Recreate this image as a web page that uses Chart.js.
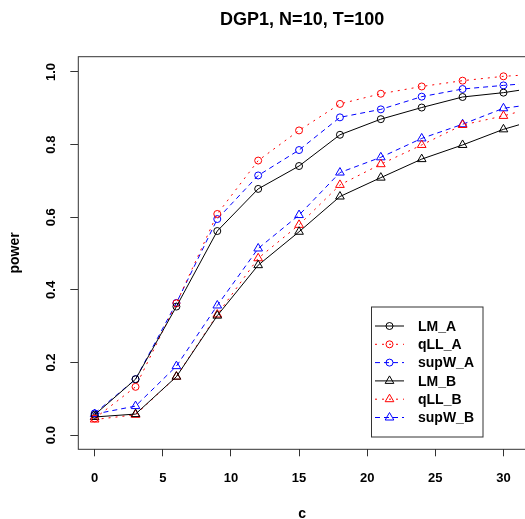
<!DOCTYPE html>
<html>
<head>
<title>DGP1, N=10, T=100 - power</title>
<script src="https://cdn.jsdelivr.net/npm/chart.js"></script>
<style>
    body { margin: 0; background: white; }
    #wrap { width: 525px; height: 519px; }
</style>
</head>
<body>
<div id="wrap"><canvas id="powerChart" width="525" height="519"></canvas></div>
<script>
// values (c = 33 lies past the clipped right edge)
const cValues = [0, 3, 6, 9, 12, 15, 18, 21, 24, 27, 30, 33];
const lmA   = [0.056, 0.154, 0.354, 0.562, 0.678, 0.741, 0.827, 0.870, 0.902, 0.931, 0.943, 0.960];
const qllA  = [0.046, 0.133, 0.363, 0.609, 0.756, 0.839, 0.912, 0.940, 0.960, 0.976, 0.988, 0.995];
const supwA = [0.060, 0.154, 0.364, 0.595, 0.715, 0.785, 0.875, 0.897, 0.932, 0.953, 0.963, 0.972];
const lmB   = [0.050, 0.058, 0.161, 0.329, 0.468, 0.560, 0.657, 0.709, 0.760, 0.799, 0.842, 0.875];
const qllB  = [0.043, 0.056, 0.161, 0.332, 0.487, 0.579, 0.689, 0.746, 0.799, 0.854, 0.879, 0.910];
const supwB = [0.058, 0.080, 0.190, 0.357, 0.514, 0.606, 0.723, 0.765, 0.817, 0.856, 0.900, 0.915];

const xTicks = [0, 5, 10, 15, 20, 25, 30];
const yTicks = [0, 0.2, 0.4, 0.6, 0.8, 1.0];

const FONT = "'Liberation Sans', Arial, sans-serif";

function series(label, values, color, dash, shape) {
    return {
        label: label,
        data: cValues.map((c, i) => ({ x: c, y: values[i] })),
        borderColor: color,
        borderWidth: 1,
        borderDash: dash,
        backgroundColor: 'rgba(0,0,0,0)',
        pointStyle: shape,
        pointRadius: shape === 'triangle' ? 5 : 3.5,
        pointBorderColor: color,
        pointBackgroundColor: 'rgba(0,0,0,0)',
        pointBorderWidth: 1,
        tension: 0
    };
}

const datasets = [
    series('LM_A', lmA, '#000000', [], 'circle'),
    series('qLL_A', qllA, '#ff0000', [2, 5], 'circle'),
    series('supW_A', supwA, '#0000ff', [5, 4], 'circle'),
    series('LM_B', lmB, '#000000', [], 'triangle'),
    series('qLL_B', qllB, '#ff0000', [2, 5], 'triangle'),
    series('supW_B', supwB, '#0000ff', [5, 4], 'triangle')
];

function drawMarker(ctx, shape, r, x, y) {
    ctx.beginPath();
    if (shape === 'triangle') {
        let a = 0;
        ctx.moveTo(x + Math.sin(a) * r, y - Math.cos(a) * r);
        a += 2 * Math.PI / 3;
        ctx.lineTo(x + Math.sin(a) * r, y - Math.cos(a) * r);
        a += 2 * Math.PI / 3;
        ctx.lineTo(x + Math.sin(a) * r, y - Math.cos(a) * r);
        ctx.closePath();
    } else {
        ctx.arc(x, y, r, 0, Math.PI * 2);
    }
    ctx.stroke();
}

// R-style decorations: box, rotated y labels, titles and the legend
const rStyle = {
    id: 'rStyle',
    afterDraw(chart) {
        const ctx = chart.ctx;
        const a = chart.chartArea;
        const ys = chart.scales.y;
        ctx.save();

        // plot box (right side falls outside the picture)
        ctx.strokeStyle = '#333';
        ctx.lineWidth = 1;
        ctx.setLineDash([]);
        ctx.strokeRect(a.left, a.top, a.right - a.left + 10, a.bottom - a.top);

        ctx.fillStyle = '#000';

        // y tick labels, parallel to the axis
        ctx.font = 'bold 13px ' + FONT;
        ctx.textAlign = 'center';
        ctx.textBaseline = 'alphabetic';
        ys.ticks.forEach(t => {
            const py = ys.getPixelForValue(t.value);
            ctx.save();
            ctx.translate(55, py);
            ctx.rotate(-Math.PI / 2);
            ctx.fillText(t.value.toFixed(1), 0, 0);
            ctx.restore();
        });

        // main title
        ctx.font = 'bold 18px ' + FONT;
        ctx.textBaseline = 'middle';
        ctx.fillText('DGP1, N=10, T=100', (a.left + 526) / 2, 20);

        // axis titles
        ctx.font = 'bold 14px ' + FONT;
        ctx.textBaseline = 'alphabetic';
        ctx.fillText('c', (a.left + 526) / 2, 518);
        ctx.save();
        ctx.translate(18.5, (a.top + a.bottom) / 2);
        ctx.rotate(-Math.PI / 2);
        ctx.fillText('power', 0, 0);
        ctx.restore();

        // legend
        const lx = 371.5, ly = 307, lw = 111.5, lh = 130;
        ctx.fillStyle = '#fff';
        ctx.fillRect(lx, ly, lw, lh);
        ctx.strokeStyle = '#333';
        ctx.strokeRect(lx, ly, lw, lh);
        ctx.font = 'bold 14px ' + FONT;
        ctx.textAlign = 'left';
        ctx.textBaseline = 'middle';
        chart.data.datasets.forEach((ds, i) => {
            const ry = 326 + i * 18.3;
            ctx.strokeStyle = ds.borderColor;
            ctx.lineWidth = 1;
            ctx.setLineDash(ds.borderDash);
            ctx.beginPath();
            ctx.moveTo(375, ry);
            ctx.lineTo(404, ry);
            ctx.stroke();
            ctx.setLineDash([]);
            drawMarker(ctx, ds.pointStyle, ds.pointRadius, 389.5, ry);
            ctx.fillStyle = '#000';
            ctx.fillText(ds.label, 418, ry + 1);
        });

        ctx.restore();
    }
};

new Chart(document.getElementById('powerChart'), {
    type: 'line',
    data: { datasets: datasets },
    plugins: [rStyle],
    options: {
        responsive: false,
        animation: false,
        devicePixelRatio: 1,
        layout: { padding: { top: 56.7, right: 0, bottom: 0, left: 0 } },
        plugins: {
            legend: { display: false },
            title: { display: false },
            tooltip: { enabled: false }
        },
        scales: {
            x: {
                type: 'linear',
                min: -1.2,
                max: 31.14,
                afterBuildTicks: s => { s.ticks = xTicks.map(v => ({ value: v })); },
                afterFit: s => { s.height = 69.7; },
                grid: { drawOnChartArea: false, drawTicks: true, tickLength: 7, color: '#333' },
                border: { display: false },
                ticks: {
                    color: '#000',
                    font: { family: FONT, size: 13, weight: 'bold' },
                    padding: 14,
                    maxRotation: 0,
                    autoSkip: false,
                    callback: v => String(v)
                }
            },
            y: {
                type: 'linear',
                min: -0.039,
                max: 1.042,
                afterBuildTicks: s => { s.ticks = yTicks.map(v => ({ value: v })); },
                afterFit: s => { s.width = 78.3; },
                grid: { drawOnChartArea: false, drawTicks: true, tickLength: 8, color: '#333' },
                border: { display: false },
                ticks: { display: false }
            }
        }
    }
});
</script>
</body>
</html>
